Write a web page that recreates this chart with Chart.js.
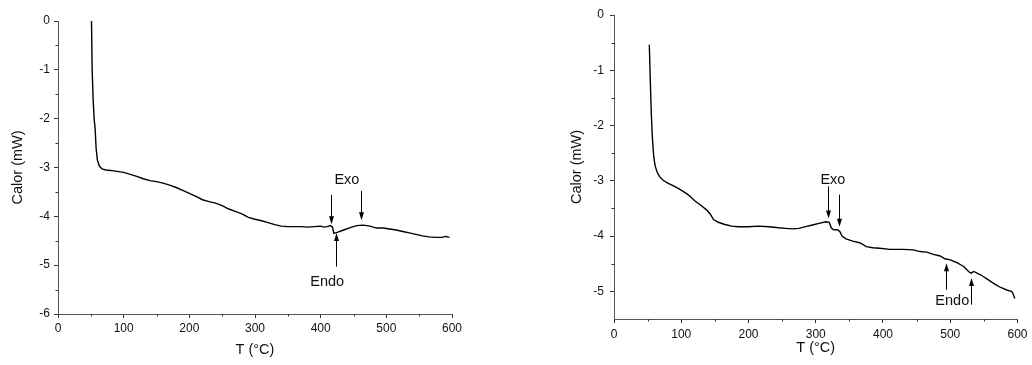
<!DOCTYPE html>
<html>
<head>
<meta charset="utf-8">
<script src="https://cdn.jsdelivr.net/npm/chart.js@4/dist/chart.umd.min.js"></script>
<style>
  body { margin: 0; background: #fff; width: 1032px; height: 365px; position: relative; overflow: hidden; }
  #dscA { position: absolute; left: 0; top: 0; }
  #dscB { position: absolute; left: 560px; top: 0; }
</style>
</head>
<body>
<canvas id="dscA" width="516" height="365"></canvas>
<canvas id="dscB" width="472" height="365"></canvas>
<script>
// sample A: temperature (°C) and heat flow (mW)
const tempA = [51, 52, 53.5, 55, 56.5, 58, 60, 63, 67, 73, 80, 90, 100, 110, 120, 130, 140, 150, 160, 170,
  180, 190, 200, 210, 220, 230, 240, 250, 260, 270, 280, 290, 300, 310, 320, 330, 340, 350, 360, 370,
  380, 390, 400, 405, 410, 415, 418, 420, 425, 435, 445, 455, 465, 475, 485, 495, 505, 515, 525, 535,
  545, 555, 565, 575, 585, 590, 593, 596];
const calorA = [0, -1, -1.6, -2.0, -2.2, -2.6, -2.85, -2.97, -3.03, -3.05, -3.06, -3.08, -3.1, -3.14, -3.18, -3.23, -3.27, -3.29, -3.32, -3.36,
  -3.41, -3.47, -3.53, -3.59, -3.66, -3.7, -3.73, -3.78, -3.85, -3.9, -3.95, -4.02, -4.06, -4.09, -4.13, -4.17, -4.2, -4.21, -4.21, -4.21,
  -4.22, -4.21, -4.2, -4.22, -4.21, -4.19, -4.22, -4.35, -4.33, -4.28, -4.23, -4.19, -4.18, -4.2, -4.24, -4.24, -4.26, -4.28, -4.31, -4.34,
  -4.37, -4.4, -4.42, -4.43, -4.43, -4.41, -4.42, -4.43];

// sample B
const tempB = [52.5, 54, 55.5, 57, 59, 61, 64, 68, 73, 80, 90, 100, 110, 115, 120, 130, 138, 143, 148, 155,
  165, 175, 185, 200, 215, 230, 245, 255, 265, 275, 285, 295, 305, 315, 320, 323, 326, 333, 336, 339,
  345, 355, 365, 370, 375, 385, 395, 410, 430, 445, 455, 465, 475, 485, 492, 500, 510, 520, 528, 531,
  535, 545, 555, 565, 575, 585, 591, 593, 596];
const calorB = [-0.54, -1.2, -1.8, -2.2, -2.55, -2.72, -2.84, -2.93, -2.99, -3.04, -3.1, -3.17, -3.25, -3.3, -3.36, -3.45, -3.53, -3.6, -3.7, -3.75,
  -3.79, -3.82, -3.83, -3.83, -3.82, -3.83, -3.85, -3.86, -3.87, -3.86, -3.83, -3.8, -3.77, -3.74, -3.75, -3.85, -3.88, -3.89, -3.92, -4.0,
  -4.05, -4.09, -4.12, -4.15, -4.19, -4.21, -4.22, -4.24, -4.24, -4.25, -4.28, -4.29, -4.33, -4.36, -4.41, -4.43, -4.48, -4.55, -4.65, -4.67,
  -4.64, -4.7, -4.78, -4.86, -4.93, -4.98, -5.0, -5.03, -5.13];

// tick labels
const tempTicks = [0, 100, 200, 300, 400, 500, 600];
const calorTicksA = [-6, -5, -4, -3, -2, -1, 0];
const calorTicksB = [-5, -4, -3, -2, -1, 0];

// arrows: [T, from, to] and texts: [text, T, value]
const arrowsA = [[416, -3.56, -4.16], [462, -3.48, -4.08], [422.7, -5.03, -4.34]];
const textsA = [['Exo', 440, -3.26], ['Endo', 410, -5.34]];
const arrowsB = [[318.2, -3.1, -3.68], [334.4, -3.25, -3.83], [494.4, -4.97, -4.49], [530.3, -5.24, -4.76]];
const textsB = [['Exo', 325.5, -2.98], ['Endo', 503, -5.18]];

const FAMILY = "'Liberation Sans', Arial, sans-serif";

// small outward ticks halfway between the labelled ones, plus arrows and notes
const extras = {
  id: 'extras',
  afterDraw(chart, args, opts) {
    const ctx = chart.ctx;
    const xs = chart.scales.x, ys = chart.scales.y;
    const area = chart.chartArea;
    ctx.save();
    ctx.strokeStyle = '#333';
    ctx.lineWidth = 1;
    ctx.beginPath();
    for (let v = xs.min + 50; v < xs.max; v += 100) {
      const px = Math.round(xs.getPixelForValue(v)) + 0.5;
      ctx.moveTo(px, area.bottom);
      ctx.lineTo(px, area.bottom + 2.5);
    }
    for (let v = Math.ceil(ys.min) - 0.5; v < ys.max; v += 1) {
      if (v <= ys.min) continue;
      const py = Math.round(ys.getPixelForValue(v)) + 0.5;
      ctx.moveTo(area.left, py);
      ctx.lineTo(area.left - 2.5, py);
    }
    ctx.stroke();

    ctx.strokeStyle = '#000';
    ctx.fillStyle = '#000';
    opts.arrows.forEach(([t, from, to]) => {
      const x = Math.round(xs.getPixelForValue(t)) + 0.5;
      const y1 = ys.getPixelForValue(from);
      const y2 = ys.getPixelForValue(to);
      const dir = y2 > y1 ? 1 : -1;
      ctx.beginPath();
      ctx.moveTo(x, y1);
      ctx.lineTo(x, y2 - dir * 6);
      ctx.stroke();
      ctx.beginPath();
      ctx.moveTo(x, y2);
      ctx.lineTo(x - 2.5, y2 - dir * 8);
      ctx.lineTo(x + 2.5, y2 - dir * 8);
      ctx.closePath();
      ctx.fill();
    });
    ctx.font = '14.5px ' + FAMILY;
    ctx.textAlign = 'center';
    ctx.textBaseline = 'middle';
    ctx.fillStyle = '#111';
    opts.texts.forEach(([txt, t, v]) => {
      ctx.fillText(txt, xs.getPixelForValue(t), ys.getPixelForValue(v));
    });
    ctx.restore();
  }
};

function makeChart(id, temp, calor, yMin, yTicks, g) {
  const tickFont = { family: FAMILY, size: 12 };
  const titleFont = { family: FAMILY, size: 14.5 };
  return new Chart(document.getElementById(id), {
    type: 'line',
    data: {
      datasets: [{
        data: temp.map((t, i) => ({ x: t, y: calor[i] })),
        borderColor: '#000',
        borderWidth: 1.4,
        pointRadius: 0,
        tension: 0,
        fill: false
      }]
    },
    options: {
      responsive: false,
      animation: false,
      layout: { padding: g.pad },
      plugins: {
        legend: { display: false },
        tooltip: { enabled: false },
        extras: { arrows: g.arrows, texts: g.texts }
      },
      scales: {
        x: {
          type: 'linear',
          min: 0,
          max: 600,
          afterBuildTicks: s => { s.ticks = tempTicks.map(v => ({ value: v })); },
          afterFit: s => { s.height = g.xh; },
          grid: { drawOnChartArea: false, drawTicks: true, tickLength: 4, tickColor: '#333' },
          border: { display: true, color: '#555', width: 1 },
          ticks: { font: tickFont, color: '#111', padding: g.xpad, maxRotation: 0 },
          title: { display: true, text: 'T (°C)', font: titleFont, color: '#111', padding: { top: 0, bottom: g.xtp } }
        },
        y: {
          type: 'linear',
          min: yMin,
          max: 0,
          afterBuildTicks: s => { s.ticks = yTicks.map(v => ({ value: v })); },
          afterFit: s => { s.width = g.yw; },
          grid: { drawOnChartArea: false, drawTicks: true, tickLength: 4, tickColor: '#333' },
          border: { display: true, color: '#555', width: 1 },
          ticks: { font: tickFont, color: '#111', padding: g.ypad },
          title: { display: true, text: 'Calor (mW)', font: titleFont, color: '#111', padding: { top: g.ytp, bottom: 0 } }
        }
      }
    },
    plugins: [extras]
  });
}

makeChart('dscA', tempA, calorA, -6, calorTicksA, {
  pad: { left: 0, top: 21, right: 64, bottom: 0 },
  xh: 51, yw: 58, xpad: 3, ypad: 4, xtp: 6.3, ytp: 9.6,
  arrows: arrowsA, texts: textsA
});
makeChart('dscB', tempB, calorB, -5.5, calorTicksB, {
  pad: { left: 0, top: 15, right: 12, bottom: 0 },
  xh: 46, yw: 54, xpad: 4.5, ypad: 6, xtp: 8, ytp: 8,
  arrows: arrowsB, texts: textsB
});
</script>
</body>
</html>
